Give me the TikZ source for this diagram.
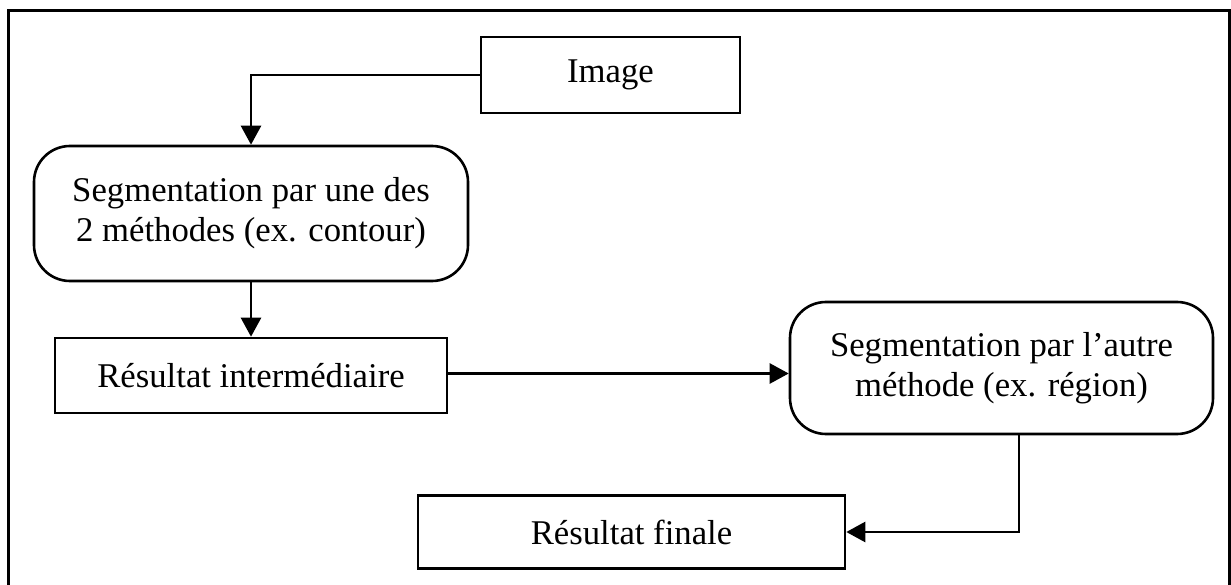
\documentclass[tikz,border=0pt]{standalone}
\usepackage{fontspec}
\setmainfont{Liberation Serif}
\usetikzlibrary{arrows.meta}
\tikzset{
  box/.style={draw, line width=2.6pt, inner sep=0pt, align=center,
    font=\fontsize{34.7}{40}\selectfont},
  roundbox/.style={box, rounded corners=36pt},
  arr/.style={line width=2.6pt, -{Triangle[length=19pt,width=20pt]}},
}
\begin{document}
\begin{tikzpicture}[x=1pt,y=-1pt]
  \useasboundingbox (0,0) rectangle (1231,585);
  % outer frame, open at the bottom edge of the page
  \draw[line width=3pt] (8,586) -- (8,11) -- (1229,11) -- (1229,586);

  \node[box, minimum width=259pt, minimum height=76pt] (img) at (610.5,75) {Image};
  \node[roundbox, minimum width=434pt, minimum height=135pt] (seg1) at (251,213.5)
    {Segmentation par une des\\2 méthodes (ex. contour)};
  \node[box, minimum width=392pt, minimum height=75pt] (res1) at (251,375.5)
    {Résultat intermédiaire};
  \node[roundbox, minimum width=423pt, minimum height=132pt] (seg2) at (1001.5,368)
    {Segmentation par l’autre\\méthode (ex. région)};
  \node[box, minimum width=427pt, minimum height=73pt] (fin) at (631.5,532)
    {Résultat finale};

  \draw[arr] (img.west) -| (seg1.north);
  \draw[arr] (seg1.south) -- (res1.north);
  \draw[arr] ([yshift=2pt]res1.east) -- ([yshift=2pt]res1.east -| seg2.west);
  \draw[arr] ([xshift=17.5pt]seg2.south) |- (fin.east);
\end{tikzpicture}
\end{document}
